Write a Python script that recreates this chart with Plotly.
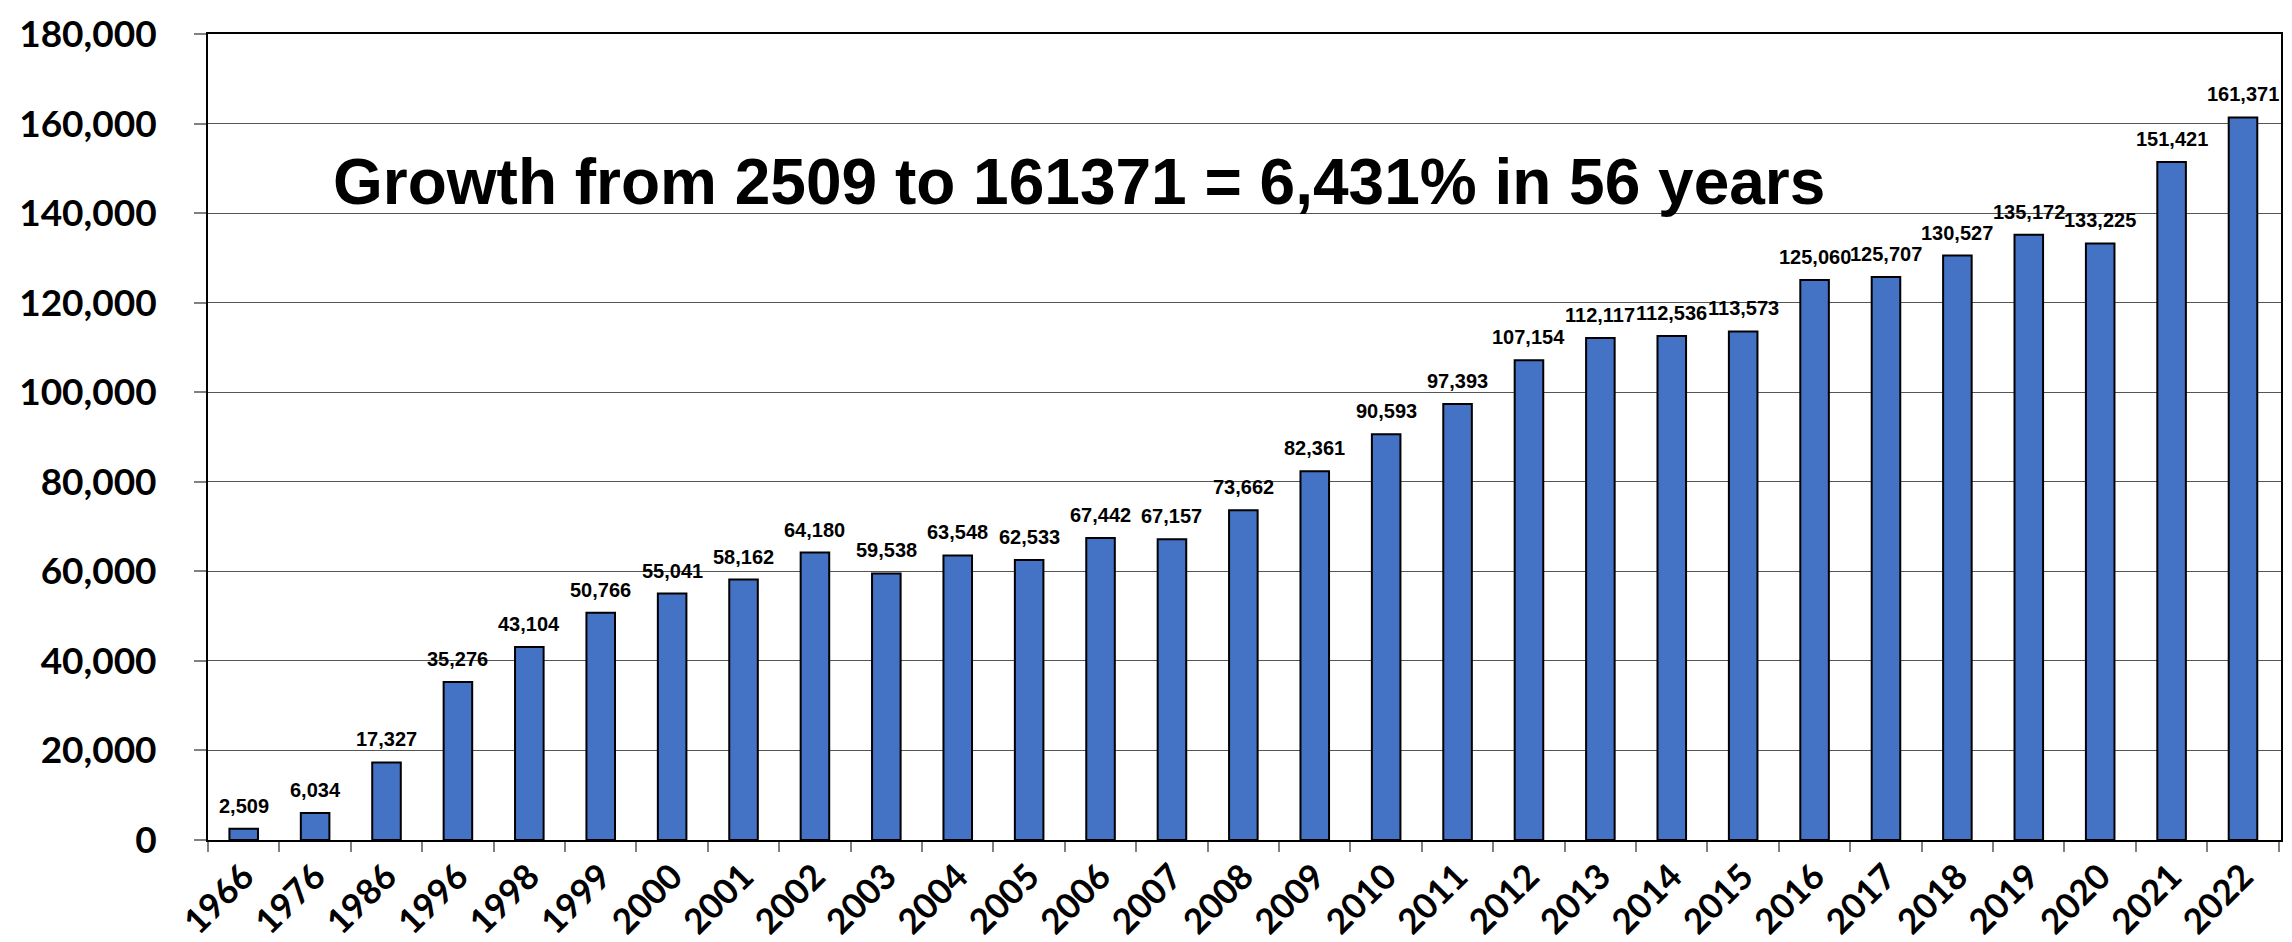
import plotly.graph_objects as go

years = ["1966", "1976", "1986", "1996", "1998", "1999", "2000", "2001", "2002", "2003",
         "2004", "2005", "2006", "2007", "2008", "2009", "2010", "2011", "2012", "2013",
         "2014", "2015", "2016", "2017", "2018", "2019", "2020", "2021", "2022"]
values = [2509, 6034, 17327, 35276, 43104, 50766, 55041, 58162, 64180, 59538,
          63548, 62533, 67442, 67157, 73662, 82361, 90593, 97393, 107154, 112117,
          112536, 113573, 125060, 125707, 130527, 135172, 133225, 151421, 161371]
y_ticks = [0, 20000, 40000, 60000, 80000, 100000, 120000, 140000, 160000, 180000]
title_text = "Growth from 2509 to 161371 = 6,431% in 56 years"

fig = go.Figure()
fig.add_trace(go.Bar(
    x=years, y=values,
    marker=dict(color="#4472C4", line=dict(color="#000000", width=2)),
    width=0.4,
    hoverinfo="x+y",
))

# category axis: annotations are placed by category index
for i, v in enumerate(values):
    fig.add_annotation(
        x=i, y=v, text=f"{v:,}", showarrow=False,
        yanchor="bottom", yshift=10,
        font=dict(family="Liberation Sans, Arial, sans-serif", size=20,
                  color="#000000", weight="bold"),
    )

fig.add_annotation(
    xref="paper", yref="paper", x=0.420, y=0.816,
    xanchor="center", yanchor="middle", showarrow=False,
    text=title_text,
    font=dict(family="Liberation Sans, Arial, sans-serif", size=64, color="#000000", weight="bold"),
)

x_tick_font = dict(family="Lato, sans-serif", size=35, color="#000000", weight="bold")
y_tick_font = dict(family="Lato, sans-serif", size=37, color="#000000", weight="bold")

fig.update_layout(
    width=2292, height=942,
    margin=dict(l=200, r=19, t=26, b=110),
    paper_bgcolor="#ffffff", plot_bgcolor="#ffffff",
    showlegend=False,
)
fig.update_xaxes(
    type="category", tickangle=-45, tickfont=x_tick_font, automargin=False,
    showline=True, linecolor="#000000", linewidth=2, mirror=True,
    ticks="outside", tickson="boundaries", ticklen=10, tickcolor="#808080", tickwidth=2,
    showgrid=False,
)
fig.update_yaxes(
    range=[0, 180000], tickvals=y_ticks, ticktext=[f"{t:,}" for t in y_ticks],
    tickfont=y_tick_font, automargin=False, ticklabelstandoff=30,
    showline=True, linecolor="#000000", linewidth=2, mirror=True,
    ticks="outside", ticklen=12, tickcolor="#808080", tickwidth=2,
    showgrid=True, gridcolor="#555555", gridwidth=1,
    zeroline=False,
)

fig.write_html("out.html")
